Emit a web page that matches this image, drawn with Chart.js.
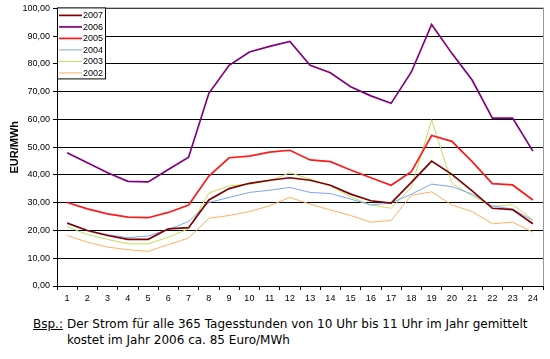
<!DOCTYPE html>
<html>
<head>
<meta charset="utf-8">
<script src="https://cdn.jsdelivr.net/npm/chart.js@4.4.1/dist/chart.umd.min.js"></script>
<style>
  html, body { margin: 0; padding: 0; background: #fff; }
  #wrap { position: relative; width: 550px; height: 359px; }
  #chart { position: absolute; left: 0; top: 0; }
  .note { position: absolute; left: 33px; top: 316px; font-family: "DejaVu Sans", sans-serif; font-size: 12px; line-height: 16px; color: #000; display: flex; }
  .note u { margin-right: 4px; }
</style>
</head>
<body>
<div id="wrap">
  <canvas id="chart" width="550" height="306"></canvas>
  <div class="note"><u>Bsp.:</u><span>Der Strom für alle 365 Tagesstunden von 10 Uhr bis 11 Uhr im Jahr gemittelt<br>kostet im Jahr 2006 ca. 85 Euro/MWh</span></div>
</div>
<script>
const hours = ["1","2","3","4","5","6","7","8","9","10","11","12","13","14","15","16","17","18","19","20","21","22","23","24"];
const years = ["2007", "2006", "2005", "2004", "2003", "2002"];
const colors = ["#800000", "#800080", "#ff1a1a", "#7ea6ee", "#c4dc5c", "#ffb060"];
const widths = [1.7, 1.7, 1.7, 1, 1, 1];

const v2007 = [22.7, 20.0, 18.2, 16.8, 16.8, 20.6, 21.0, 31.0, 35.1, 37.0, 38.1, 39.0, 38.1, 36.3, 33.1, 30.7, 29.9, 37.3, 45.0, 40.2, 34.3, 28.0, 27.5, 22.4];
const v2006 = [48.0, 44.4, 40.8, 37.7, 37.5, 42.0, 46.4, 69.4, 79.5, 84.3, 86.3, 88.1, 79.5, 76.8, 71.8, 68.5, 65.8, 77.1, 94.2, 83.8, 74.2, 60.5, 60.5, 48.6];
const v2005 = [30.1, 27.8, 26.0, 24.8, 24.6, 26.5, 29.2, 39.6, 46.2, 46.8, 48.2, 48.9, 45.4, 44.8, 41.8, 39.0, 36.3, 41.2, 54.2, 52.1, 44.8, 36.9, 36.4, 31.0];
const v2004 = [22.4, 20.0, 18.5, 17.4, 18.0, 20.4, 23.2, 30.1, 31.9, 33.7, 34.5, 35.5, 33.7, 33.3, 31.3, 29.2, 29.9, 33.1, 36.7, 35.8, 33.1, 28.9, 27.7, 23.6];
const v2003 = [21.4, 18.5, 16.8, 15.2, 15.2, 17.6, 20.6, 33.5, 36.1, 36.7, 37.9, 40.8, 38.5, 36.1, 32.1, 29.2, 28.0, 35.5, 59.9, 37.0, 32.5, 28.6, 29.3, 23.8];
const v2002 = [18.2, 15.8, 14.0, 13.1, 12.5, 14.9, 17.3, 24.4, 25.4, 26.8, 28.9, 31.9, 29.5, 27.4, 25.4, 23.0, 23.6, 32.7, 33.9, 29.2, 26.8, 22.4, 23.0, 19.4];

const series = [v2007, v2006, v2005, v2004, v2003, v2002];

// legend box in the top left corner of the plot, like the original
const boxLegend = {
  id: "boxLegend",
  afterDraw(chart) {
    const ctx = chart.ctx;
    const a = chart.chartArea;
    const x = a.left, y = a.top - 1, w = 48, h = 71;
    ctx.save();
    ctx.fillStyle = "#fff";
    ctx.fillRect(x, y, w, h);
    ctx.strokeStyle = "#000";
    ctx.lineWidth = 1;
    ctx.strokeRect(x + 0.5, y + 0.5, w, h);
    ctx.font = "9px 'Liberation Sans', Arial, sans-serif";
    ctx.textBaseline = "middle";
    chart.data.datasets.forEach((ds, i) => {
      const ly = y + 8 + i * 11.5;
      ctx.strokeStyle = ds.borderColor;
      ctx.lineWidth = ds.borderWidth;
      ctx.beginPath();
      ctx.moveTo(x + 2, ly);
      ctx.lineTo(x + 25, ly);
      ctx.stroke();
      ctx.fillStyle = "#000";
      ctx.fillText(ds.label, x + 26, ly + 0.5);
    });
    ctx.restore();
  }
};

// gray frame on top and right side of the plot
const frame = {
  id: "frame",
  beforeDatasetsDraw(chart) {
    const ctx = chart.ctx;
    const a = chart.chartArea;
    ctx.save();
    ctx.strokeStyle = "#999";
    ctx.lineWidth = 1;
    ctx.beginPath();
    ctx.moveTo(a.left, a.top - 0.5);
    ctx.lineTo(a.right + 0.5, a.top - 0.5);
    ctx.lineTo(a.right + 0.5, a.bottom);
    ctx.stroke();
    ctx.restore();
  }
};

new Chart(document.getElementById("chart"), {
  type: "line",
  data: {
    labels: hours,
    datasets: years.map((y, i) => ({
      label: y,
      data: series[i],
      borderColor: colors[i],
      backgroundColor: colors[i],
      borderWidth: widths[i],
      pointRadius: 0,
      tension: 0,
      fill: false
    }))
  },
  options: {
    responsive: false,
    animation: false,
    layout: { padding: { top: 6, right: 7, left: 0, bottom: 0 } },
    plugins: { legend: { display: false }, tooltip: { enabled: false } },
    scales: {
      x: {
        offset: true,
        grid: { offset: true, drawOnChartArea: false, color: "#000", tickLength: 4 },
        border: { color: "#000" },
        ticks: { color: "#000", font: { family: "'Liberation Sans', Arial", size: 9 }, maxRotation: 0, autoSkip: false, padding: 3 },
        afterFit: (s) => { s.height = 20; }
      },
      y: {
        min: 0,
        max: 100,
        ticks: {
          stepSize: 10,
          color: "#000",
          font: { family: "'Liberation Sans', Arial", size: 9 },
          padding: 3,
          callback: (v) => v.toFixed(2).replace(".", ",")
        },
        grid: { color: "#000", tickLength: 4 },
        border: { color: "#000" },
        title: {
          display: true,
          text: "EUR/MWh",
          color: "#000",
          font: { family: "'Liberation Sans', Arial", size: 11, weight: "bold" },
          padding: { top: 8 }
        },
        afterFit: (s) => { s.width = 57; }
      }
    }
  },
  plugins: [frame, boxLegend]
});
</script>
</body>
</html>
